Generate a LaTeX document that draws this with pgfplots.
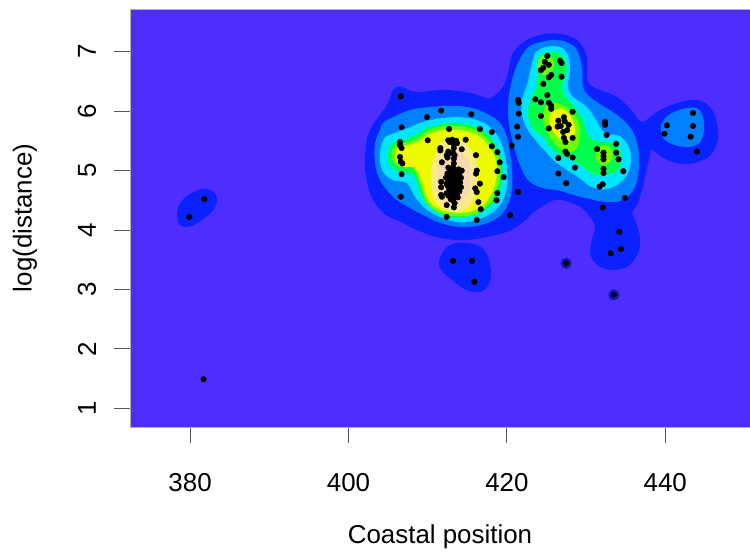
\documentclass[border=0pt]{standalone}
\usepackage{pgfplots}
\pgfplotsset{compat=1.18}
\usepackage{fontspec}
\setmainfont{Liberation Sans}
\definecolor{c0}{HTML}{4D2EFF}
\definecolor{c1}{HTML}{0A22FF}
\definecolor{c2}{HTML}{0080FF}
\definecolor{c3}{HTML}{00E5FF}
\definecolor{c4}{HTML}{00FF4D}
\definecolor{c5}{HTML}{6CFF00}
\definecolor{c6}{HTML}{EEFA00}
\definecolor{c7}{HTML}{FBEA8A}
\definecolor{c8}{HTML}{F8DAB0}
\begin{document}
\fontsize{26}{30}\selectfont
\begin{tikzpicture}
\begin{axis}[
 scale only axis, width=620bp, height=418bp,
 xmin=372.41, xmax=450.70, ymin=0.685, ymax=7.72,
 axis background/.style={fill=c0},
 axis line style={draw=gray!60, line width=0.8bp},
 tick pos=left, tick align=outside, major tick length=16bp,
 tick style={draw=black!65, line width=1bp},
 xtick={380,400,420,440}, ytick={1,2,3,4,5,6,7},
 /pgf/number format/assume math mode=true,
 xticklabel style={font=\fontsize{26}{30}\selectfont, anchor=center, yshift=-40bp},
 yticklabel style={font=\fontsize{26}{30}\selectfont, rotate=90, anchor=center, yshift=27bp},
 xlabel={Coastal position}, ylabel={log(distance)},
 xlabel style={font=\fontsize{26}{30}\selectfont, at={(axis description cs:0.5,0)}, anchor=center, yshift=-110bp},
 ylabel style={font=\fontsize{26}{30}\selectfont, at={(axis description cs:0,0.5)}, anchor=center, yshift=105bp},
 every axis plot/.append style={draw=none, smooth, tension=0.6},
]
% level 1 (outermost)
\addplot[fill=c1] coordinates {(407.51,6.36)(406.50,6.42)(405.62,6.36)(405.24,6.22)(404.61,6.05)(403.47,5.85)(402.46,5.60)(402.21,5.40)(402.08,5.06)(402.72,4.62)(404.36,4.29)(406.88,4.12)(408.65,4.00)(411.18,3.88)(414.08,3.83)(416.98,3.87)(420.01,3.97)(422.03,4.13)(423.30,4.29)(425.06,4.45)(426.71,4.51)(429.23,4.39)(430.49,4.22)(431.12,4.05)(430.62,3.78)(430.62,3.55)(431.76,3.38)(433.27,3.33)(435.17,3.38)(436.56,3.61)(436.81,3.88)(436.18,4.17)(435.80,4.29)(436.43,4.42)(437.06,4.67)(437.56,4.96)(438.07,5.26)(438.32,5.35)(440.22,5.18)(442.74,5.11)(445.27,5.21)(446.53,5.46)(446.53,5.80)(445.65,6.07)(444.00,6.19)(441.86,6.15)(439.33,6.02)(437.06,5.82)(435.92,5.99)(433.90,6.24)(430.87,6.41)(430.11,6.57)(430.11,6.91)(429.23,7.15)(427.59,7.28)(425.44,7.31)(424.18,7.28)(422.54,7.20)(420.77,6.98)(420.14,6.64)(419.51,6.41)(418.25,6.24)(417.49,6.22)(415.34,6.31)(411.93,6.36)(409.03,6.32)(407.51,6.36)} --cycle;
\addplot[fill=c1] coordinates {(378.35,4.29)(378.73,4.45)(379.74,4.59)(381.00,4.67)(382.14,4.69)(383.02,4.64)(383.40,4.51)(383.02,4.35)(382.01,4.22)(380.75,4.10)(379.61,4.05)(378.60,4.10)(378.35,4.29)} --cycle;
\addplot[fill=c1] coordinates {(411.55,3.53)(412.31,3.70)(413.57,3.78)(414.96,3.78)(416.23,3.75)(417.24,3.65)(417.74,3.50)(417.99,3.29)(417.74,3.09)(416.86,2.97)(415.72,2.96)(414.46,3.02)(413.07,3.16)(411.93,3.29)(411.43,3.41)(411.55,3.53)} --cycle;
\addplot[only marks, mark=*, mark size=5bp, mark options={draw=none, fill=c1}] coordinates {(427.5,3.44)(433.5,2.91)};
% level 2
\addplot[fill=c2] coordinates {(403.98,5.68)(403.35,5.46)(403.35,5.13)(403.98,4.84)(405.62,4.56)(407.77,4.37)(409.91,4.22)(411.55,4.12)(414.08,4.05)(416.60,4.08)(418.75,4.20)(420.01,4.39)(420.65,4.67)(420.65,5.01)(420.39,5.30)(420.01,5.57)(419.13,5.80)(417.87,5.93)(415.72,6.05)(413.20,6.09)(410.29,6.07)(407.77,6.02)(405.62,5.90)(404.36,5.80)(403.98,5.68)} --cycle;
\addplot[fill=c2] coordinates {(424.18,7.16)(425.82,7.20)(427.59,7.16)(428.85,7.03)(429.48,6.74)(429.61,6.41)(430.49,6.24)(432.01,6.10)(434.28,5.90)(435.80,5.68)(436.56,5.40)(436.68,5.06)(436.18,4.72)(434.66,4.51)(432.64,4.47)(429.23,4.56)(426.71,4.66)(424.43,4.71)(422.67,4.84)(421.65,5.09)(421.02,5.35)(420.39,5.68)(420.14,6.02)(420.39,6.36)(421.02,6.69)(421.91,6.94)(422.92,7.10)(424.18,7.16)} --cycle;
\addplot[fill=c2] coordinates {(439.46,5.77)(440.34,5.93)(442.24,6.04)(444.00,6.05)(444.76,5.90)(444.89,5.68)(444.38,5.48)(443.12,5.40)(441.22,5.43)(439.71,5.55)(439.46,5.77)} --cycle;
% level 3
\addplot[fill=c3] coordinates {(404.61,5.57)(404.11,5.40)(403.98,5.18)(404.36,4.98)(405.62,4.84)(407.39,4.79)(408.40,4.56)(409.91,4.34)(411.93,4.20)(414.08,4.13)(416.23,4.17)(418.12,4.29)(419.38,4.47)(420.01,4.72)(420.01,5.06)(419.51,5.38)(418.75,5.60)(417.49,5.77)(415.72,5.87)(413.70,5.90)(411.55,5.88)(409.41,5.82)(407.77,5.73)(406.13,5.65)(404.61,5.57)} --cycle;
\addplot[fill=c3] coordinates {(423.55,6.98)(424.81,7.08)(426.71,7.08)(427.72,6.94)(427.97,6.69)(427.72,6.44)(428.22,6.26)(430.11,6.07)(431.12,5.88)(432.39,5.63)(434.28,5.58)(435.54,5.35)(435.54,5.04)(434.41,4.81)(432.64,4.69)(430.75,4.72)(429.10,4.88)(427.59,5.01)(426.20,5.14)(424.94,5.31)(423.80,5.48)(422.67,5.68)(421.91,5.93)(421.91,6.19)(422.54,6.44)(423.04,6.74)(423.55,6.98)} --cycle;
% level 4
\addplot[fill=c4] coordinates {(405.49,5.46)(404.99,5.31)(405.11,5.13)(405.87,5.01)(407.39,4.96)(408.40,4.89)(409.03,4.62)(410.29,4.39)(411.93,4.25)(414.08,4.22)(415.97,4.25)(417.62,4.37)(418.75,4.56)(419.38,4.84)(419.38,5.13)(418.87,5.35)(417.87,5.57)(416.35,5.72)(414.08,5.80)(411.81,5.78)(409.91,5.72)(408.40,5.60)(406.88,5.51)(406.13,5.50)(405.49,5.46)} --cycle;
\addplot[fill=c4] coordinates {(423.93,6.89)(424.81,6.98)(426.45,6.98)(427.46,6.83)(427.46,6.59)(426.96,6.41)(427.46,6.24)(428.73,6.05)(429.61,5.85)(430.24,5.62)(431.12,5.50)(432.64,5.48)(433.90,5.41)(434.53,5.21)(434.03,5.01)(432.64,4.93)(430.87,4.94)(429.61,5.06)(428.22,5.18)(426.71,5.26)(425.44,5.40)(424.56,5.57)(423.42,5.68)(422.67,5.93)(422.92,6.19)(423.68,6.41)(423.80,6.69)(423.93,6.89)} --cycle;
% level 5 (lime)
\addplot[fill=c5] coordinates {(405.68,5.42)(405.41,5.26)(405.68,5.15)(406.49,5.07)(408.11,5.05)(409.05,4.78)(409.87,4.47)(411.48,4.29)(413.78,4.23)(415.82,4.26)(417.57,4.41)(418.65,4.65)(419.19,4.96)(418.92,5.26)(417.98,5.47)(416.49,5.66)(414.19,5.75)(411.89,5.75)(409.87,5.66)(408.52,5.53)(407.16,5.47)(405.68,5.42)} --cycle;
\addplot[fill=c5] coordinates {(424.81,6.10)(426.33,6.14)(428.22,5.99)(429.23,5.73)(429.10,5.46)(428.22,5.31)(426.96,5.35)(425.70,5.51)(424.81,5.73)(424.56,5.93)(424.81,6.10)} --cycle;
\addplot[fill=c5] coordinates {(423.80,6.78)(424.18,6.91)(424.94,6.94)(425.70,6.89)(425.95,6.76)(425.44,6.64)(424.69,6.61)(424.05,6.68)(423.80,6.78)} --cycle;
\addplot[fill=c5] coordinates {(431.12,5.26)(431.50,5.38)(432.39,5.43)(433.27,5.36)(433.52,5.25)(433.02,5.13)(432.13,5.09)(431.38,5.16)(431.12,5.26)} --cycle;
% level 6 yellow
\addplot[fill=c6] coordinates {(406.13,5.38)(405.87,5.23)(406.13,5.13)(406.88,5.06)(408.40,5.04)(409.28,4.79)(410.04,4.51)(411.55,4.34)(413.70,4.29)(415.60,4.32)(417.24,4.45)(418.25,4.67)(418.75,4.96)(418.50,5.23)(417.62,5.43)(416.23,5.60)(414.08,5.68)(411.93,5.68)(410.04,5.60)(408.78,5.48)(407.51,5.43)(406.13,5.38)} --cycle;
\addplot[fill=c6] coordinates {(425.70,5.99)(426.96,6.05)(427.97,5.93)(428.60,5.73)(428.35,5.55)(427.34,5.48)(426.33,5.57)(425.57,5.73)(425.32,5.88)(425.70,5.99)} --cycle;
% level 7, 8
\addplot[fill=c7] coordinates {(411.55,5.46)(410.67,5.18)(410.42,4.84)(410.80,4.54)(411.81,4.37)(413.57,4.30)(415.09,4.39)(415.97,4.59)(416.35,4.93)(415.85,5.26)(414.71,5.46)(413.07,5.53)(411.55,5.46)} --cycle;
\addplot[fill=c8] coordinates {(411.93,5.26)(411.30,5.01)(411.30,4.71)(411.93,4.51)(413.20,4.44)(414.46,4.51)(415.34,4.71)(415.47,4.98)(414.84,5.21)(413.57,5.35)(411.93,5.26)} --cycle;
% observations
\addplot[only marks, mark=*, mark size=2.8bp, mark options={draw=none, fill=black}] coordinates {
(381.8,4.52)(379.9,4.22)(381.7,1.49)
(406.6,6.25)(406.7,5.73)(406.5,5.48)(406.5,5.43)(406.7,5.38)(406.5,5.23)(406.6,5.15)(406.8,5.12)(406.7,4.94)(406.6,4.56)
(411.7,6.01)(409.9,5.90)(415.5,5.95)(412.7,5.70)(416.6,5.70)(418.1,5.65)(410.0,5.51)(414.8,5.52)
(412.6,5.51)(412.8,5.48)(413.1,5.52)(413.6,5.50)(413.7,5.46)(411.6,5.38)(411.6,5.34)(412.6,5.32)(412.8,5.29)(412.4,5.26)(412.5,5.22)(414.3,5.36)(413.4,5.26)(411.8,5.14)(416.1,5.26)
(413.3,5.45)(413.3,5.38)(413.2,5.30)(413.3,5.20)(413.3,5.12)(413.2,5.05)(413.3,4.98)(413.4,4.45)(413.3,4.55)(413.2,4.50)(413.3,4.38)
(412.5,4.95)(412.8,5.00)(413.0,4.90)(413.6,4.92)(413.9,4.85)(414.1,4.80)(412.6,4.85)(412.9,4.80)(413.5,4.78)(413.8,4.72)(412.7,4.70)(413.0,4.68)(413.4,4.66)(413.7,4.62)(412.5,4.75)(413.1,4.75)(413.6,4.85)(414.0,4.95)(412.4,4.62)(413.1,4.60)(413.8,4.55)(412.9,4.52)(413.5,4.98)(412.6,5.05)(414.2,4.72)(413.2,4.85)(413.4,4.72)
(412.3,4.88)(412.4,4.78)(413.0,5.02)(413.9,5.02)(414.2,4.88)(413.2,4.95)(412.8,4.62)(413.6,4.58)(412.6,4.58)(414.0,4.65)(413.0,4.82)(413.7,4.78)
(414.3,5.00)(416.2,5.00)(416.1,4.95)(411.7,4.81)(411.7,4.72)(416.6,4.78)(416.0,4.70)(416.2,4.64)(411.7,4.59)(411.8,4.56)(416.4,4.47)(412.4,4.42)(416.7,4.35)(412.4,4.22)(416.2,4.17)(420.4,4.25)
(418.1,5.41)(418.8,5.31)(419.1,5.14)(418.8,4.99)(419.6,4.89)(418.8,4.62)(418.7,4.50)(421.4,4.64)(420.6,5.42)(421.4,5.57)(421.3,5.74)(421.4,6.19)(421.5,6.14)(421.5,5.96)(423.6,6.20)
(413.2,3.48)(415.6,3.48)(415.9,3.13)(427.5,3.44)(433.5,2.91)(434.2,3.97)(434.4,3.68)(433.1,3.61)
(425.1,6.93)(424.8,6.83)(425.3,6.78)(424.6,6.73)(424.3,6.69)(425.3,6.57)(425.6,6.61)(424.6,6.46)(426.9,6.58)(426.7,6.85)(426.9,6.81)(425.1,6.27)(424.3,6.15)(425.3,6.14)(425.6,6.09)(425.6,6.04)(424.3,5.92)(428.3,5.99)(426.5,5.84)(427.2,5.90)(427.3,5.83)(426.8,5.75)(427.8,5.77)(427.6,5.68)(427.1,5.65)(426.4,5.74)(425.3,5.71)(428.3,5.55)(427.2,5.55)(427.4,5.48)(427.4,5.32)(427.6,5.28)(426.5,5.21)(428.3,5.22)(428.6,5.05)(426.5,4.95)(427.5,4.79)
(432.4,5.82)(432.4,5.77)(432.6,5.60)(431.4,5.36)(432.2,5.30)(432.2,5.24)(432.2,5.19)(433.8,5.45)(433.8,5.30)(434.1,5.19)(432.2,5.03)(432.2,4.96)(434.7,4.99)(432.1,4.77)(431.7,4.73)(434.9,4.54)(432.1,4.38)
(443.5,5.97)(440.2,5.76)(443.5,5.75)(439.9,5.62)(443.2,5.57)(444.0,5.32)
};
\end{axis}
\pgfresetboundingbox
\path[use as bounding box] (-130bp,-130bp) rectangle (620bp,427bp);
\end{tikzpicture}
\end{document}
